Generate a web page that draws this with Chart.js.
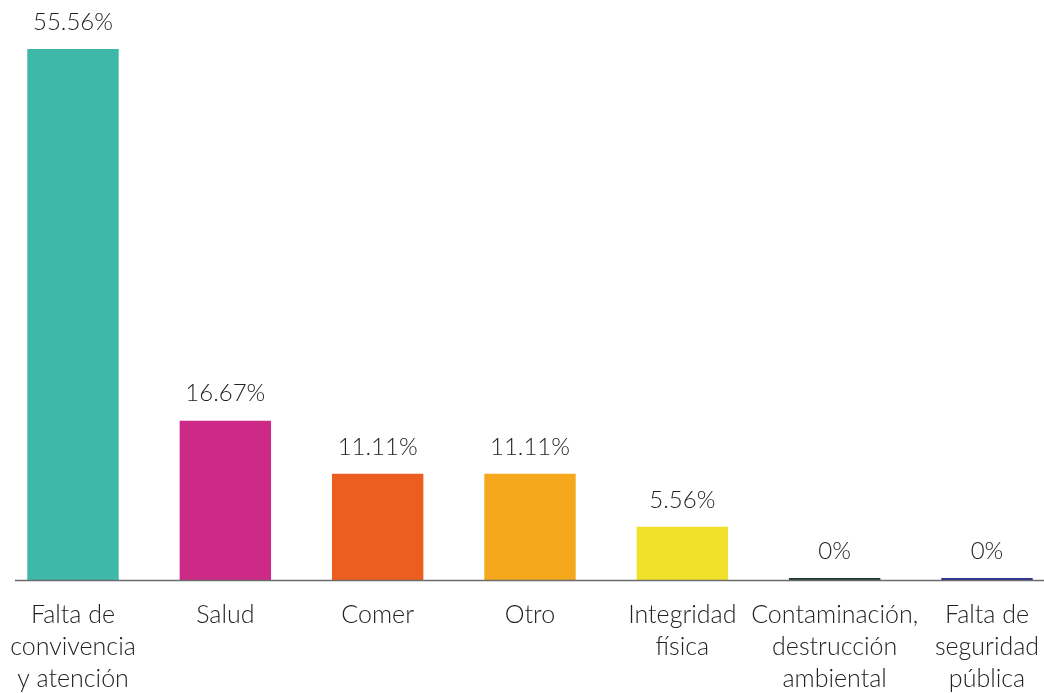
<!DOCTYPE html>
<html>
<head>
<meta charset="utf-8">
<script src="https://cdn.jsdelivr.net/npm/chart.js@4"></script>
<style>
  html, body { margin: 0; padding: 0; background: #fff; }
  #wrap { width: 1044px; height: 693px; }
</style>
</head>
<body>
<div id="wrap"><canvas id="chart"></canvas></div>
<script>
const categories = [
    ['Falta de', 'convivencia', 'y atención'],
    'Salud',
    'Comer',
    'Otro',
    ['Integridad', 'física'],
    ['Contaminación,', 'destrucción', 'ambiental'],
    ['Falta de', 'seguridad', 'pública']
];
const percentages = [55.56, 16.67, 11.11, 11.11, 5.56, 0, 0];
const valueLabels = ['55.56%', '16.67%', '11.11%', '11.11%', '5.56%', '0%', '0%'];
const barColors = ['#3db8a9', '#cc2a86', '#ec5e20', '#f5a81c', '#f0e22b', '#1f3b2f', '#2e3192'];

// draws the value text above each bar and the long baseline
const extras = {
    id: 'extras',
    afterDatasetsDraw(chart) {
        const ctx = chart.ctx;
        const y = chart.scales.y.getPixelForValue(0);
        ctx.save();
        ctx.strokeStyle = '#6b6b6b';
        ctx.lineWidth = 1.5;
        ctx.beginPath();
        ctx.moveTo(15, y + 0.5);
        ctx.lineTo(1044, y + 0.5);
        ctx.stroke();

        ctx.fillStyle = '#222';
        ctx.font = '300 24px Lato';
        ctx.textAlign = 'center';
        ctx.textBaseline = 'middle';
        chart.getDatasetMeta(0).data.forEach((bar, i) => {
            ctx.fillText(valueLabels[i], bar.x, bar.y - 27);
        });
        ctx.restore();
    }
};

new Chart(document.getElementById('chart').getContext('2d'), {
    type: 'bar',
    data: {
        labels: categories,
        datasets: [{
            data: percentages,
            backgroundColor: barColors,
            barPercentage: 1,
            categoryPercentage: 0.6,
            minBarLength: 2,
            clip: false
        }]
    },
    options: {
        responsive: true,
        maintainAspectRatio: false,
        animation: false,
        layout: {
            padding: { left: 0, right: 0, top: 49, bottom: -21 }
        },
        plugins: {
            legend: { display: false },
            tooltip: { enabled: false }
        },
        scales: {
            x: {
                offset: false,
                afterFit(scale) { scale.paddingLeft = 73; scale.paddingRight = 57; },
                grid: { display: false, drawTicks: false },
                border: { display: false },
                ticks: {
                    color: '#222',
                    font: { family: 'Lato', size: 25, weight: 300, lineHeight: 1.28 },
                    maxRotation: 0,
                    autoSkip: false,
                    padding: 19
                }
            },
            y: {
                display: false,
                min: 0,
                max: 55.56
            }
        }
    },
    plugins: [extras]
});
</script>
</body>
</html>
